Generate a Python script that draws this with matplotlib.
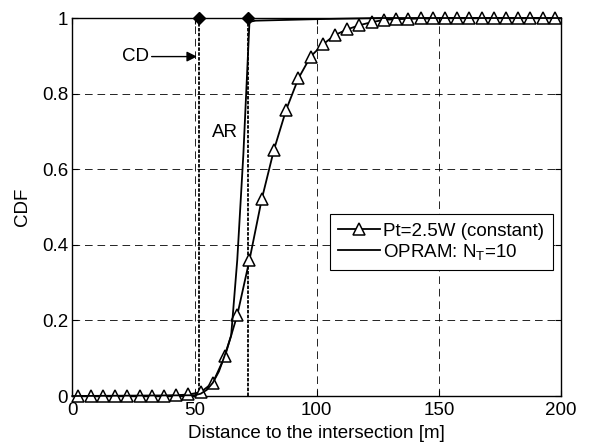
import numpy as np
import matplotlib
matplotlib.use('Agg')
import matplotlib.pyplot as plt

plt.rcParams['font.family'] = ['Liberation Sans', 'DejaVu Sans']
plt.rcParams['font.size'] = 13.5
plt.rcParams['mathtext.fontset'] = 'custom'
plt.rcParams['mathtext.rm'] = 'Liberation Sans'
plt.rcParams['mathtext.it'] = 'Liberation Sans'
plt.rcParams['lines.scale_dashes'] = False

# Pt=2.5W (constant), sampled every 5 m
dist_pt = np.arange(2.5, 200, 5)
cdf_pt = [0, 0, 0, 0, 0, 0, 0, 0, 0.002, 0.004,
          0.01, 0.035, 0.106, 0.214, 0.36, 0.52, 0.651, 0.757, 0.84, 0.898,
          0.930, 0.955, 0.970, 0.981, 0.989, 0.995, 0.997, 0.998, 0.999, 0.999,
          1, 1, 1, 1, 1, 1, 1, 1, 1, 1]

# OPRAM N_T=10
dist_op = [0, 50, 52.5, 55, 57.5, 60, 62.5, 65, 67.5, 70, 72.5, 75, 100, 125, 200]
cdf_op = [0, 0.002, 0.006, 0.016, 0.035, 0.065, 0.11, 0.16, 0.36, 0.64, 0.99, 0.993, 0.997, 1.0, 1.0]

# CD / AR markers
mark_x = [52, 72]

fig = plt.figure(figsize=(5.89, 4.45), dpi=100)
ax = fig.add_axes([0.1228, 0.1101, 0.8297, 0.8494])

ax.grid(True, color='black', linestyle=(0, (5.5, 3.5)), linewidth=0.6)

for mx in mark_x:
    ax.plot([mx, mx], [0, 1], color='black', linestyle=(0, (2.5, 1)), linewidth=1.3)
    ax.plot([mx], [1], marker='D', color='black', markersize=6.5, clip_on=False, zorder=5)

ax.plot(dist_pt, cdf_pt, color='black', linewidth=1.3, marker='^', markersize=8,
        markerfacecolor='white', markeredgecolor='black', markeredgewidth=1.1,
        label='Pt=2.5W (constant)', clip_on=False, zorder=4)
ax.plot(dist_op, cdf_op, color='black', linewidth=1.3, label='OPRAM: N$_\\mathrm{T}$=10',
        clip_on=False, zorder=4)

ax.annotate('CD', xy=(51, 0.898), xytext=(25.8, 0.898), ha='center', va='center',
            arrowprops=dict(arrowstyle='-|>', color='black', lw=1, mutation_scale=15,
                            shrinkA=0, shrinkB=0))
ax.text(62.5, 0.698, 'AR', ha='center', va='center')

ax.set_xlim(0, 200)
ax.set_ylim(0, 1)
ax.set_xticks([0, 50, 100, 150, 200])
ax.set_yticks([0, 0.2, 0.4, 0.6, 0.8, 1])
ax.set_yticklabels(['0', '0.2', '0.4', '0.6', '0.8', '1'])
ax.tick_params(direction='in', length=4, top=True, right=True)
ax.tick_params(axis='x', pad=4)
ax.tick_params(axis='y', pad=3)
for s in ax.spines.values():
    s.set_linewidth(1.0)

ax.set_xlabel('Distance to the intersection [m]', labelpad=4.5)
ax.set_ylabel('CDF', labelpad=7.5)

leg = ax.legend(loc='upper left', bbox_to_anchor=(0.527, 0.481), borderaxespad=0,
                fancybox=False, edgecolor='black', framealpha=1, handlelength=2.2,
                handletextpad=0.2, labelspacing=0.12, borderpad=0.45)
leg.get_frame().set_linewidth(0.8)

fig.savefig('out.png', dpi=100)
